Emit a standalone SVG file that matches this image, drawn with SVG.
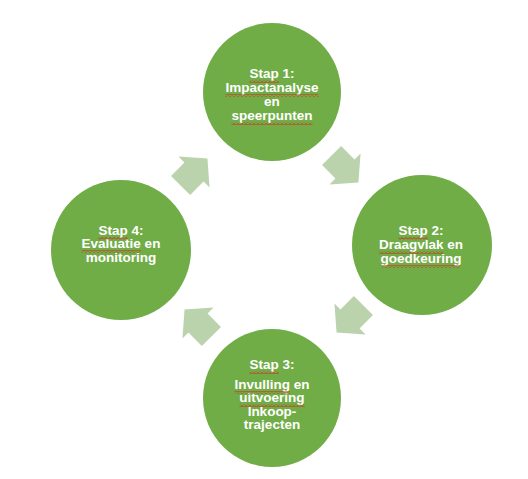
<svg xmlns="http://www.w3.org/2000/svg" width="528" height="479" viewBox="0 0 528 479">
<defs>
<style>
.node{fill:#70AD47}
.arr{fill:#BBD3AC}
.t{font-family:"Liberation Sans",Arial,sans-serif;font-weight:bold;font-size:13.5px;fill:#FFFFFF;text-anchor:middle}
.sq{fill:url(#squig)}
</style>
<pattern id="squig" width="4" height="3" patternUnits="userSpaceOnUse">
<path d="M0,2.5 L2,0.5 L4,2.5" fill="none" stroke="#E02020" stroke-width="1"/>
</pattern>
<polygon id="arrow" points="-19,-13.5 0,-13.5 0,-22 19,0 0,22 0,13.5 -19,13.5"/>
</defs>
<rect width="528" height="479" fill="#FFFFFF"/>
<g id="connectors">
<use href="#arrow" class="arr" transform="translate(194,172) rotate(-45)"/>
<use href="#arrow" class="arr" transform="translate(345,169) rotate(45)"/>
<use href="#arrow" class="arr" transform="translate(350,319) rotate(135)"/>
<use href="#arrow" class="arr" transform="translate(198,323) rotate(-135)"/>
</g>
<g id="step1">
<circle class="node" cx="272" cy="92" r="69"/>
<text class="t" x="272" y="78">Stap 1:</text>
<text class="t" x="272" y="92">Impactanalyse</text>
<text class="t" x="272" y="106">en</text>
<text class="t" x="272" y="120">speerpunten</text>
<rect class="sq" x="249.5" y="80" width="29.3" height="3"/>
<rect class="sq" x="225.5" y="94" width="93" height="3"/>
<rect class="sq" x="231.5" y="122" width="81" height="3"/>
</g>
<g id="step2">
<circle class="node" cx="422" cy="245" r="70"/>
<text class="t" x="421" y="235">Stap 2:</text>
<text class="t" x="421" y="249">Draagvlak en</text>
<text class="t" x="421" y="263">goedkeuring</text>
<rect class="sq" x="398.5" y="237" width="29.3" height="3"/>
<rect class="sq" x="379" y="251" width="64.5" height="3"/>
<rect class="sq" x="381.8" y="265" width="78.3" height="3"/>
</g>
<g id="step3">
<circle class="node" cx="272" cy="398" r="69"/>
<text class="t" x="272" y="369">Stap 3:</text>
<text class="t" x="272" y="389">Invulling en</text>
<text class="t" x="272" y="402">uitvoering</text>
<text class="t" x="272" y="416">Inkoop-</text>
<text class="t" x="272" y="429">trajecten</text>
<rect class="sq" x="249.5" y="371" width="29.3" height="3"/>
<rect class="sq" x="234.5" y="391" width="55.5" height="3"/>
<rect class="sq" x="239.4" y="404" width="65.3" height="3"/>
</g>
<g id="step4">
<circle class="node" cx="121" cy="250" r="70"/>
<text class="t" x="121" y="235">Stap 4:</text>
<text class="t" x="121" y="248">Evaluatie en</text>
<text class="t" x="121" y="262">monitoring</text>
<rect class="sq" x="98.5" y="237" width="29.3" height="3"/>
<rect class="sq" x="81.6" y="250" width="59.3" height="3"/>
</g>
</svg>
